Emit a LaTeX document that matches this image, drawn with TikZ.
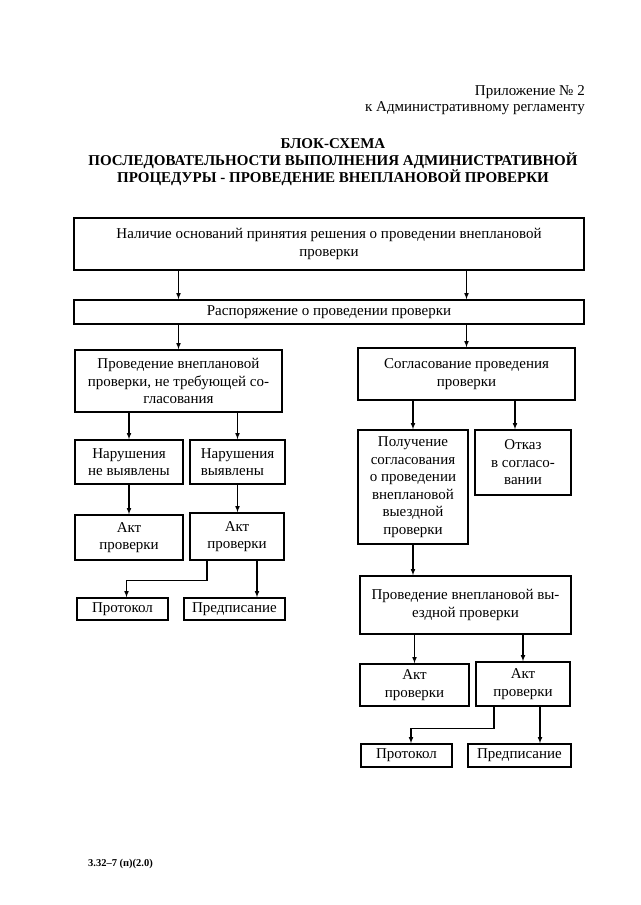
\documentclass[tikz,border=0pt]{standalone}
\usepackage{fontspec}
\setmainfont{Liberation Serif}
\usetikzlibrary{arrows}

\tikzset{
  blok/.style={draw, line width=1.6pt, align=center, inner sep=1pt,
    font=\fontsize{15}{17.5}\selectfont},
  razmer/.style 2 args={minimum width=#1, minimum height=#2},
  strelka/.style={line width=1.1pt, -latex},
  zagolovok/.style={font=\bfseries\fontsize{15}{17}\selectfont, anchor=base}
}

\begin{document}
\begin{tikzpicture}[x=1pt, y=-1pt]
  \useasboundingbox (0,0) rectangle (640,905);
  % шапка
  \node[anchor=base east, inner sep=0pt, font=\fontsize{15}{16}\selectfont] (pril) at (585,95) {Приложение № 2};
  \node[anchor=base east, inner sep=0pt, font=\fontsize{15}{16}\selectfont] (regl) at (585,111) {к Административному регламенту};
  \node[zagolovok] (zag1) at (333,148) {БЛОК-СХЕМА};
  \node[zagolovok] (zag2) at (333,165) {ПОСЛЕДОВАТЕЛЬНОСТИ ВЫПОЛНЕНИЯ АДМИНИСТРАТИВНОЙ};
  \node[zagolovok] (zag3) at (333,182) {ПРОЦЕДУРЫ - ПРОВЕДЕНИЕ ВНЕПЛАНОВОЙ ПРОВЕРКИ};

  % блоки
  \node[blok, razmer={510pt}{52pt}] (osnov) at (329,244)
    {Наличие оснований принятия решения о проведении внеплановой\\проверки};
  \node[blok, razmer={510pt}{24pt}] (rasp) at (329,312)
    {Распоряжение о проведении проверки};
  \node[blok, razmer={207pt}{62pt}] (bezsogl) at (178.5,381)
    {Проведение внеплановой\\проверки, не требующей со-\\гласования};
  \node[blok, razmer={217pt}{52pt}] (sogl) at (466.5,374)
    {Согласование проведения\\проверки};
  \node[blok, razmer={108pt}{44pt}] (nenar) at (129,462)
    {Нарушения\\не выявлены};
  \node[blok, razmer={95pt}{44pt}, align=left] (nar) at (237.5,462)
    {Нарушения\\выявлены};
  \node[blok, razmer={108pt}{45pt}] (akta) at (129,537.5)
    {Акт\\проверки};
  \node[blok, razmer={94pt}{47pt}] (aktb) at (237,536.5)
    {Акт\\проверки};
  \node[blok, razmer={91pt}{22pt}] (prota) at (122.5,609)
    {Протокол};
  \node[blok, razmer={101pt}{22pt}] (preda) at (234.5,609)
    {Предписание};

  \node[blok, razmer={110pt}{114pt}] (poluch) at (413,487)
    {Получение\\согласования\\о проведении\\внеплановой\\выездной\\проверки};
  \node[blok, razmer={96pt}{65pt}] (otkaz) at (523,462.5)
    {Отказ\\в согласо-\\вании};
  \node[blok, razmer={211pt}{58pt}] (vyezd) at (465.5,605)
    {Проведение внеплановой вы-\\ездной проверки};
  \node[blok, razmer={109pt}{42pt}] (aktc) at (414.5,685)
    {Акт\\проверки};
  \node[blok, razmer={94pt}{44pt}] (aktd) at (523,684)
    {Акт\\проверки};
  \node[blok, razmer={91pt}{23pt}] (protb) at (406.5,755.5)
    {Протокол};
  \node[blok, razmer={103pt}{23pt}] (predb) at (519.5,755.5)
    {Предписание};

  % стрелки
  \draw[strelka] (osnov.south -| bezsogl.north) -- (rasp.north -| bezsogl.north);
  \draw[strelka] (osnov.south -| sogl.north) -- (rasp.north -| sogl.north);
  \draw[strelka] (rasp.south -| bezsogl.north) -- (bezsogl.north);
  \draw[strelka] (rasp.south -| sogl.north) -- (sogl.north);
  \draw[strelka] (bezsogl.south -| nenar.north) -- (nenar.north);
  \draw[strelka] (bezsogl.south -| nar.north) -- (nar.north);
  \draw[strelka] (nenar.south) -- (akta.north);
  \draw[strelka] (nar.south) -- (nar.south |- aktb.north);
  \draw[strelka] ([xshift=-30pt]aktb.south) -- ++(0,20) -| ([xshift=4pt]prota.north);
  \draw[strelka] ([xshift=20pt]aktb.south) -- ([xshift=20pt]aktb.south |- preda.north);

  \draw[strelka] (sogl.south -| poluch.north) -- (poluch.north);
  \draw[strelka] ([xshift=-8pt]otkaz.north |- sogl.south) -- ([xshift=-8pt]otkaz.north);
  \draw[strelka] (poluch.south) -- (poluch.south |- vyezd.north);
  \draw[strelka] (vyezd.south -| aktc.north) -- (aktc.north);
  \draw[strelka] (vyezd.south -| aktd.north) -- (aktd.north);
  \draw[strelka] ([xshift=-29pt]aktd.south) -- ++(0,22) -| ([xshift=4.5pt]protb.north);
  \draw[strelka] ([xshift=17pt]aktd.south) -- ([xshift=17pt]aktd.south |- predb.north);

  % подвал
  \node[anchor=base west, inner sep=0pt, font=\bfseries\fontsize{10.5}{12}\selectfont] (shifr) at (88,866) {3.32–7 (п)(2.0)};
\end{tikzpicture}
\end{document}
